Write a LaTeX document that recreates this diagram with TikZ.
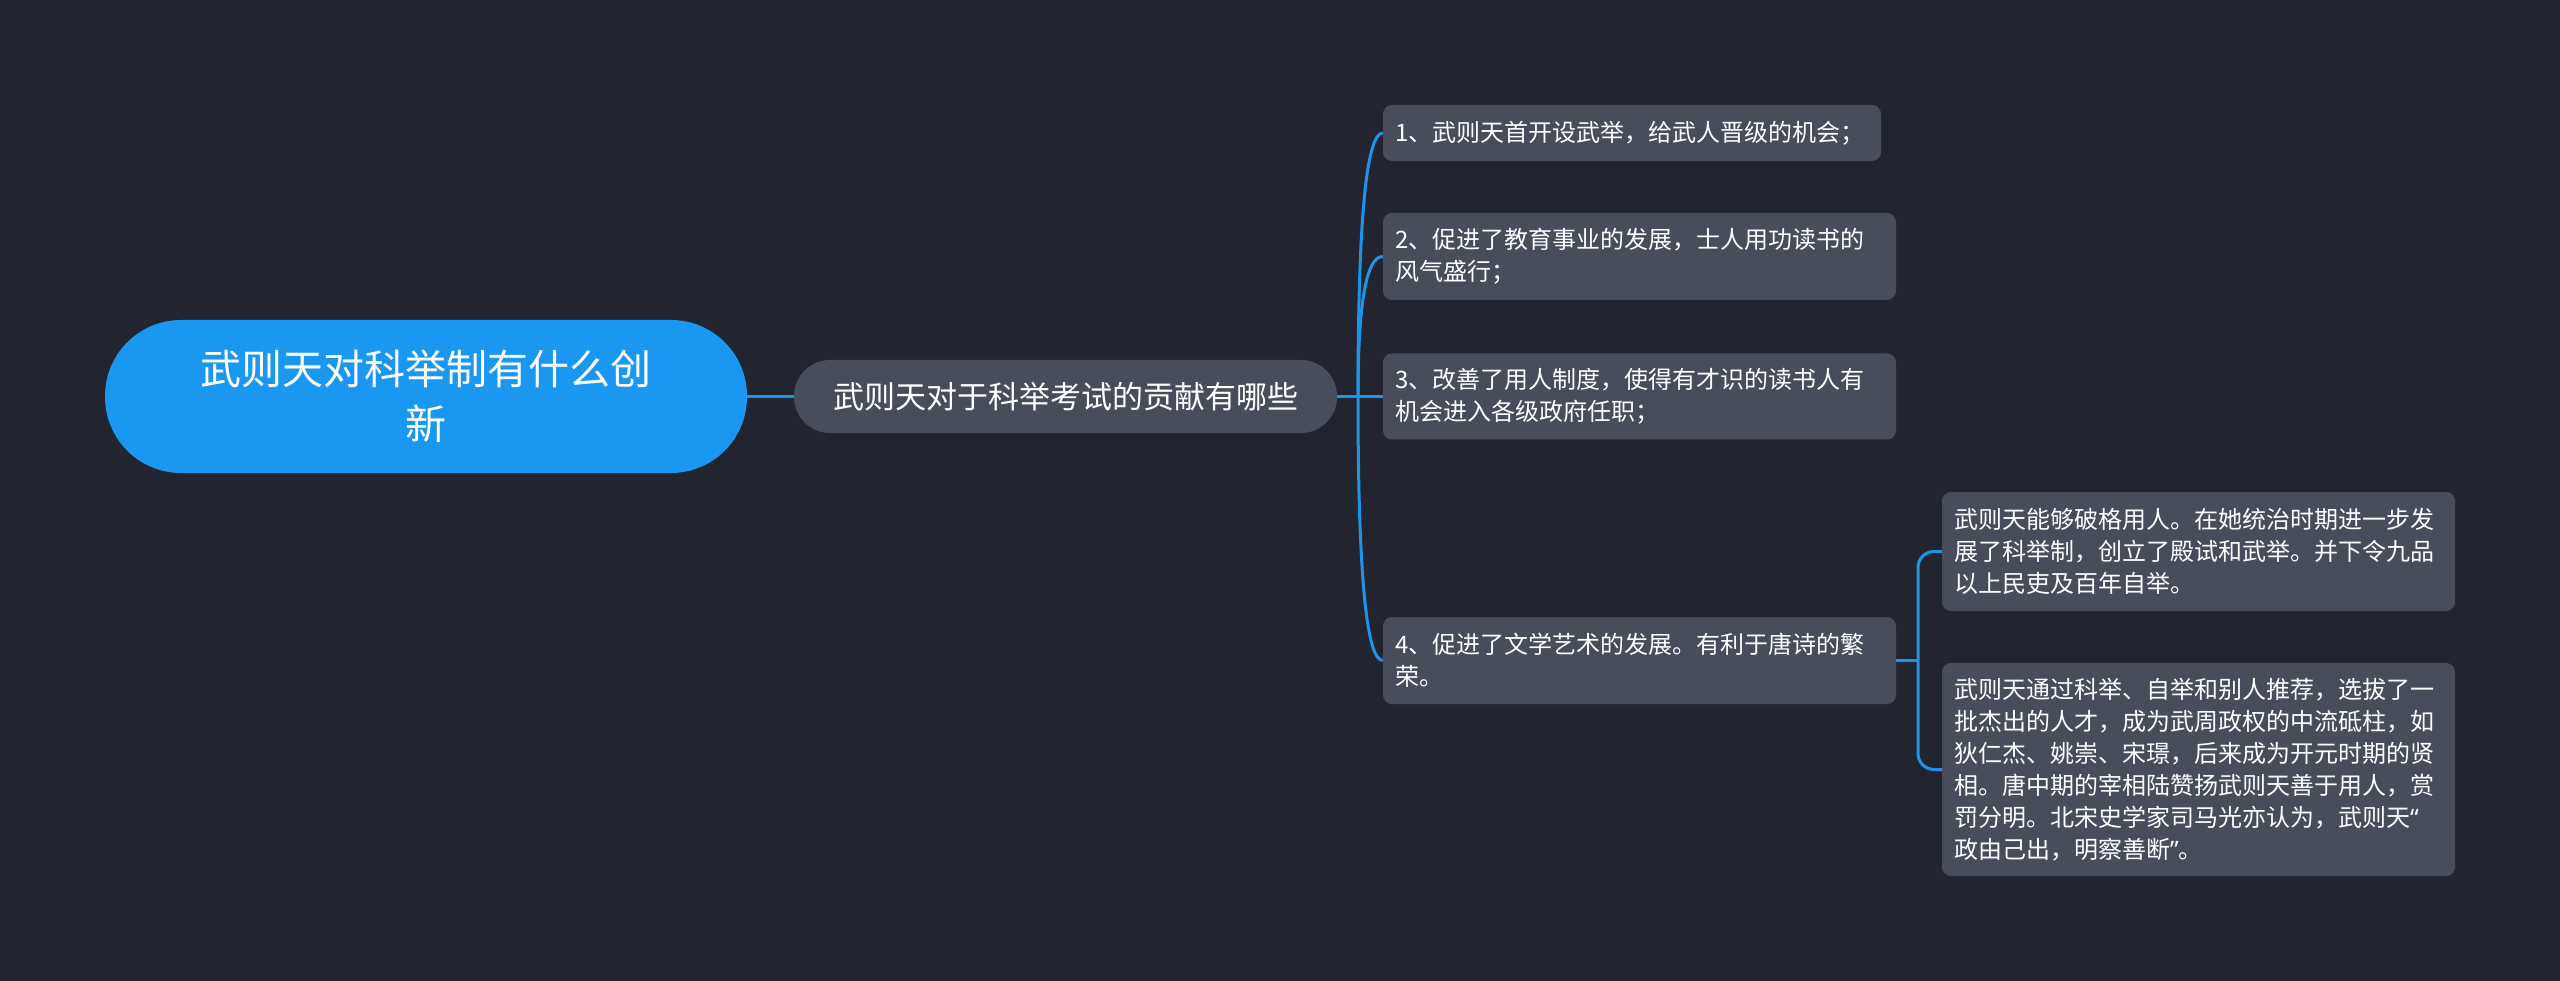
\documentclass[tikz,border=0pt]{standalone}
\usepackage{fontspec}
\setmainfont{Noto Sans CJK SC}
\newfontfamily\qfont{Noto Sans}
\usetikzlibrary{calc}
\definecolor{bgc}{HTML}{22252F}
\definecolor{rootc}{HTML}{1A98F1}
\definecolor{boxc}{HTML}{474D5B}
\definecolor{linec}{HTML}{1E94E8}
\tikzset{
  rootbox/.style={fill=rootc, text=white, rounded corners=76pt, minimum width=642pt, minimum height=153pt, align=center, inner sep=0pt, font=\fontsize{41}{55}\selectfont},
  subbox/.style={fill=boxc, text=white, rounded corners=36pt, minimum width=543pt, minimum height=73pt, align=center, inner sep=0pt, font=\fontsize{31}{40}\selectfont},
  leafbox/.style={fill=boxc, text=white, rounded corners=9pt, align=left, inner xsep=12pt, inner ysep=0pt, font=\fontsize{24}{32}\selectfont},
  conn/.style={draw=linec, line width=3pt},
}
\begin{document}
\begin{tikzpicture}[x=1pt,y=-1pt]
\fill[bgc] (0,0) rectangle (2560,981);
\useasboundingbox (0,0) rectangle (2560,981);

\node[rootbox] (root) at (426,396.5) {武则天对科举制有什么创\\新};
\node[subbox] (sub) at (1065.5,396.5) {武则天对于科举考试的贡献有哪些};

\node[leafbox, text width=474pt, minimum height=56pt] (l1) at (1632,133) {1、武则天首开设武举，给武人晋级的机会；};
\node[leafbox, text width=489pt, minimum height=87pt] (l2) at (1639.5,256.5) {2、促进了教育事业的发展，士人用功读书的\\风气盛行；};
\node[leafbox, text width=489pt, minimum height=86pt] (l3) at (1639.5,396.5) {3、改善了用人制度，使得有才识的读书人有\\机会进入各级政府任职；};
\node[leafbox, text width=489pt, minimum height=87pt] (l4) at (1639.5,660.5) {4、促进了文学艺术的发展。有利于唐诗的繁\\荣。};

\node[leafbox, text width=489pt, minimum height=119pt] (l5) at (2198.5,551.5) {武则天能够破格用人。在她统治时期进一步发\\展了科举制，创立了殿试和武举。并下令九品\\以上民吏及百年自举。};
\node[leafbox, text width=489pt, minimum height=213pt] (l6) at (2198.5,769.5) {武则天通过科举、自举和别人推荐，选拔了一\\批杰出的人才，成为武周政权的中流砥柱，如\\狄仁杰、姚崇、宋璟，后来成为开元时期的贤\\相。唐中期的宰相陆赞扬武则天善于用人，赏\\罚分明。北宋史学家司马光亦认为，武则天{\qfont “}\\政由己出，明察善断{\qfont ”}。};

\coordinate (j1) at (1358,396.5);
\coordinate (j2) at (1918,660.5);

\draw[conn] (root.east) -- (sub.west);
\draw[conn] (sub.east) -- (l3.west);
\foreach \l in {l1,l2,l4}{
  \draw[conn] (j1) .. controls ($(j1)!2/3!(j1|-\l.west)$) and ($(\l.west)!2/3!(j1|-\l.west)$) .. (\l.west);
}
\draw[conn] (l4.east) -- (j2);
\draw[conn, rounded corners=16pt] (j2) |- (l5.west);
\draw[conn, rounded corners=16pt] (j2) |- (l6.west);
\end{tikzpicture}
\end{document}
